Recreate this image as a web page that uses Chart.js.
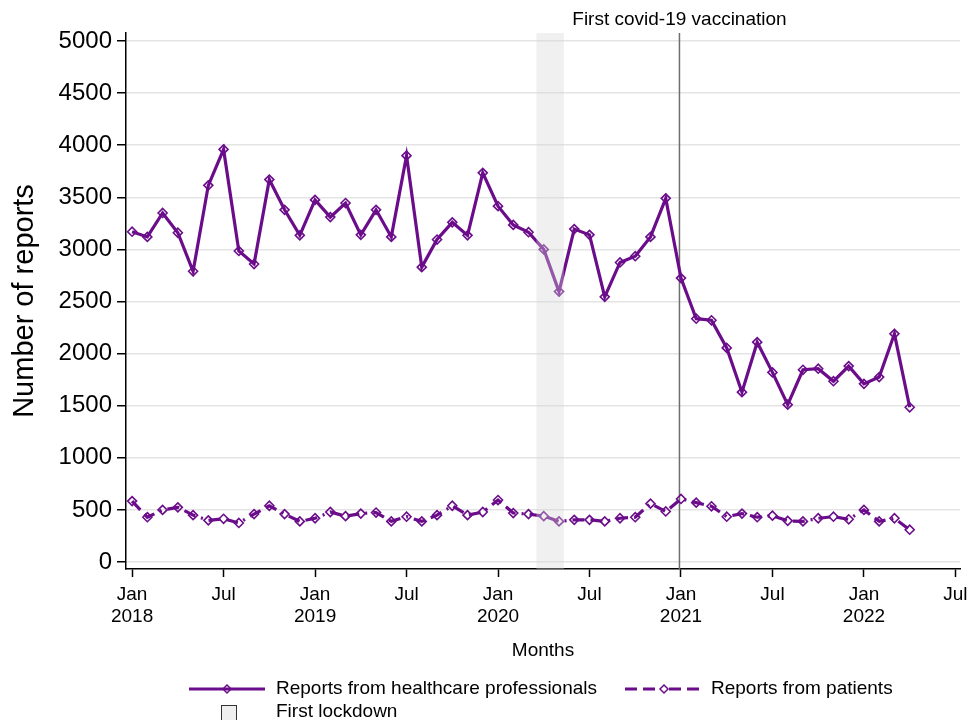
<!DOCTYPE html>
<html>
<head>
<meta charset="utf-8">
<title>Number of reports per month</title>
<script src="https://cdn.jsdelivr.net/npm/chart.js@4.4.1/dist/chart.umd.min.js"></script>
<style>
  html, body { margin: 0; padding: 0; background: #fff; }
  #reportsChart { display: block; }
</style>
</head>
<body>
<canvas id="reportsChart" width="968" height="720"></canvas>
<script>
// Monthly reports, Jan 2018 -> Apr 2022 (index 0 = Jan 2018)
const healthcareReports = [
  3170, 3120, 3350, 3160, 2790, 3615, 3960, 2985, 2860, 3670, 3380, 3135,
  3475, 3310, 3445, 3140, 3380, 3120, 3900, 2830, 3095, 3260, 3135, 3735,
  3415, 3235, 3165, 3000, 2595, 3195, 3140, 2545, 2875, 2935, 3120, 3490,
  2725, 2335, 2320, 2055, 1630, 2110, 1820, 1510, 1845, 1855, 1735, 1880,
  1710, 1775, 2190, 1485
];
const patientReports = [
  585, 430, 500, 525, 450, 400, 415, 375, 460, 540, 460, 390,
  420, 480, 440, 465, 475, 390, 435, 390, 450, 540, 450, 480,
  595, 470, 460, 440, 390, 405, 405, 390, 420, 430, 560, 485,
  605, 570, 535, 435, 465, 430, 445, 395, 390, 420, 435, 410,
  500, 390, 420, 310
];

// x ticks every 6 months
const xTickMonths = [0, 6, 12, 18, 24, 30, 36, 42, 48, 54];
const xTickLabels = [
  ["Jan", "2018"], "Jul", ["Jan", "2019"], "Jul", ["Jan", "2020"],
  "Jul", ["Jan", "2021"], "Jul", ["Jan", "2022"], "Jul"
];
const yTickValues = [0, 500, 1000, 1500, 2000, 2500, 3000, 3500, 4000, 4500, 5000];

// events, in months since Jan 2018
const lockdownStart = 26.52; // 17 March 2020
const lockdownEnd = 28.32;   // 11 May 2020
const vaccinationMonth = 35.9;

const PURPLE = "#6b0d8a";
const FONT = "'Liberation Sans', Arial, sans-serif";
const patientDash = [12, 6, 12, 6, 2, 6];

function toPoints(values) {
  return values.map((v, i) => ({ x: i, y: v }));
}

function diamond(ctx, x, y, r) {
  ctx.beginPath();
  ctx.moveTo(x, y - r);
  ctx.lineTo(x + r, y);
  ctx.lineTo(x, y + r);
  ctx.lineTo(x - r, y);
  ctx.closePath();
}

// vertical line for the first vaccination, under the series
const vaccinationLine = {
  id: "vaccinationLine",
  beforeDatasetsDraw(chart) {
    const { ctx, chartArea, scales } = chart;
    const x = scales.x.getPixelForValue(vaccinationMonth);
    ctx.save();
    ctx.strokeStyle = "#6e6e6e";
    ctx.lineWidth = 1.5;
    ctx.beginPath();
    ctx.moveTo(x, chartArea.top);
    ctx.lineTo(x, chartArea.bottom);
    ctx.stroke();
    ctx.fillStyle = "#000";
    ctx.font = `19px ${FONT}`;
    ctx.textAlign = "center";
    ctx.textBaseline = "middle";
    ctx.fillText("First covid-19 vaccination", x, 20);
    ctx.restore();
  }
};

// translucent band for the first lockdown, over the series
const lockdownBand = {
  id: "lockdownBand",
  afterDatasetsDraw(chart) {
    const { ctx, chartArea, scales } = chart;
    const x0 = scales.x.getPixelForValue(lockdownStart);
    const x1 = scales.x.getPixelForValue(lockdownEnd);
    ctx.save();
    ctx.fillStyle = "rgba(214, 214, 214, 0.37)";
    ctx.fillRect(x0, chartArea.top, x1 - x0, chartArea.bottom - chartArea.top);
    ctx.restore();
  }
};

// two-row legend under the axis title
const customLegend = {
  id: "customLegend",
  afterDraw(chart) {
    const ctx = chart.ctx;
    const row1 = 689, row2 = 712;
    ctx.save();
    ctx.strokeStyle = PURPLE;
    ctx.lineWidth = 3;
    ctx.beginPath();
    ctx.moveTo(189, row1);
    ctx.lineTo(265, row1);
    ctx.stroke();
    ctx.lineWidth = 1.5;
    diamond(ctx, 227, row1, 4);
    ctx.stroke();

    ctx.lineWidth = 3;
    ctx.setLineDash(patientDash);
    ctx.beginPath();
    ctx.moveTo(625, row1);
    ctx.lineTo(704, row1);
    ctx.stroke();
    ctx.setLineDash([]);
    ctx.lineWidth = 1.5;
    ctx.fillStyle = "#fff";
    diamond(ctx, 664, row1, 4);
    ctx.fill();
    ctx.stroke();

    ctx.fillStyle = "#efefef";
    ctx.fillRect(221, row2 - 7, 16, 16);
    ctx.strokeStyle = "#333";
    ctx.lineWidth = 1;
    ctx.strokeRect(221.5, row2 - 6.5, 15, 15);

    ctx.fillStyle = "#000";
    ctx.font = `19px ${FONT}`;
    ctx.textBaseline = "middle";
    ctx.fillText("Reports from healthcare professionals", 276, row1);
    ctx.fillText("Reports from patients", 711, row1);
    ctx.fillText("First lockdown", 276, row2);
    ctx.restore();
  }
};

const ctx = document.getElementById("reportsChart").getContext("2d");
new Chart(ctx, {
  type: "line",
  data: {
    datasets: [
      {
        label: "Reports from healthcare professionals",
        data: toPoints(healthcareReports),
        borderColor: PURPLE,
        borderWidth: 3.2,
        pointStyle: "rectRot",
        pointRadius: 4.5,
        pointBorderWidth: 1.6,
        pointBorderColor: PURPLE,
        pointBackgroundColor: "rgba(255,255,255,0)",
        tension: 0
      },
      {
        label: "Reports from patients",
        data: toPoints(patientReports),
        borderColor: PURPLE,
        borderWidth: 3.2,
        borderDash: patientDash,
        pointStyle: "rectRot",
        pointRadius: 4.5,
        pointBorderWidth: 1.6,
        pointBorderColor: PURPLE,
        pointBackgroundColor: "rgba(255,255,255,0)",
        tension: 0
      }
    ]
  },
  options: {
    responsive: false,
    animation: false,
    devicePixelRatio: 1,
    layout: { padding: { top: 33, right: 8, bottom: 51, left: 0 } },
    plugins: {
      legend: { display: false },
      tooltip: { enabled: false }
    },
    scales: {
      x: {
        type: "linear",
        min: -0.4,
        max: 54.3,
        afterBuildTicks: (axis) => { axis.ticks = xTickMonths.map((v) => ({ value: v })); },
        afterFit: (axis) => {
          axis.height = 100;
          axis.paddingLeft = 0;
          axis.paddingRight = 0;
        },
        ticks: {
          autoSkip: false,
          maxRotation: 0,
          padding: 7,
          color: "#000",
          font: { family: FONT, size: 19, lineHeight: 1.16 },
          callback: (value) => xTickLabels[xTickMonths.indexOf(value)]
        },
        grid: { drawOnChartArea: false, tickLength: 8, tickColor: "#000", tickWidth: 1.5 },
        border: { color: "#000", width: 1.5 },
        title: {
          display: true,
          text: "Months",
          color: "#000",
          font: { family: FONT, size: 19, lineHeight: 1.2 },
          padding: { top: 0, bottom: 7 }
        }
      },
      y: {
        min: -67,
        max: 5077,
        afterBuildTicks: (axis) => { axis.ticks = yTickValues.map((v) => ({ value: v })); },
        afterFit: (axis) => { axis.width = 126; },
        ticks: {
          padding: 5,
          color: "#000",
          font: { family: FONT, size: 24 },
          callback: (value) => String(value)
        },
        grid: { color: "#e4e4e4", lineWidth: 1.5, tickLength: 9, tickColor: "#000", tickWidth: 1.5 },
        border: { color: "#000", width: 1.5 },
        title: {
          display: true,
          text: "Number of reports",
          color: "#000",
          font: { family: FONT, size: 29, lineHeight: 1.2 },
          padding: { top: 8, bottom: 0 }
        }
      }
    }
  },
  plugins: [vaccinationLine, lockdownBand, customLegend]
});
</script>
</body>
</html>
